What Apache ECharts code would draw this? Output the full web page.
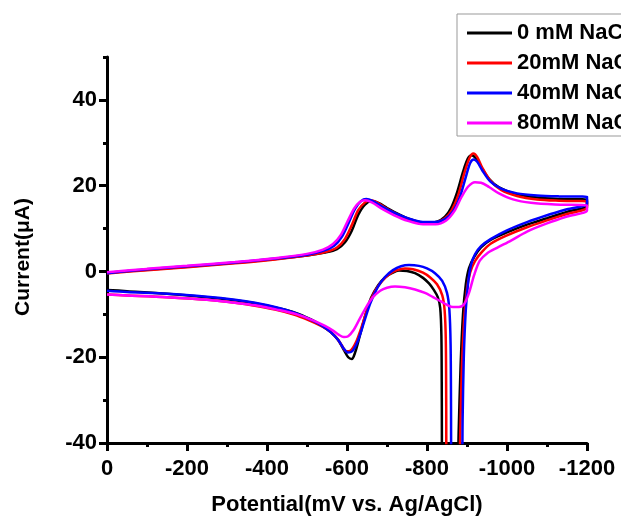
<!DOCTYPE html>
<html>
<head>
<meta charset="utf-8">
<script src="https://cdn.jsdelivr.net/npm/echarts@6/dist/echarts.min.js"></script>
<style>
  html, body { margin: 0; padding: 0; background: #fff; }
  #chart { width: 621px; height: 522px; }
</style>
</head>
<body>
<div id="chart"></div>
<script>
// potential (mV) / current (uA) pairs, scan goes 0 -> -1200 -> 0
const legendNames = ['0 mM NaCl', '20mM NaCl', '40mM NaCl', '80mM NaCl'];
const lineColors = ['#000000', '#ff0000', '#0000ff', '#ff00ff'];

const cv0mM = [
  [0,-0.3],[-100,0.4],[-200,1.1],[-320,2.0],[-420,2.9],[-500,3.7],[-545,4.4],[-575,5.2],[-595,6.8],[-612,9.5],
  [-628,13.2],[-645,15.6],[-662,16.4],[-680,15.9],[-700,14.8],[-730,13.3],[-760,12.1],[-795,11.3],[-825,11.6],
  [-845,12.8],[-860,14.8],[-875,18.4],[-890,23.2],[-902,26.3],[-912,27.1],[-922,26.4],[-935,24.4],[-955,21.6],
  [-980,19.6],[-1020,18.1],[-1070,17.3],[-1130,16.9],[-1200,16.7],
  [-1200,15.3],[-1150,13.9],[-1100,12.4],[-1050,10.9],[-1000,9.1],[-960,7.4],[-935,5.6],[-918,3.4],[-905,0.8],
  [-897,-3],[-890,-10],[-884,-22],[-879,-38],[-876,-50],[-838,-50],[-837,-30],[-836,-15],[-833,-8.5],[-827,-6],
  [-817,-4.3],[-805,-2.8],[-790,-1.5],[-770,-0.4],[-750,0.1],[-730,0.2],[-712,-0.4],[-695,-1.4],[-678,-3.2],
  [-660,-6.2],[-645,-10.5],[-632,-15],[-620,-19],[-612,-20.4],[-603,-20],[-592,-18.3],[-578,-16],[-560,-14.2],
  [-540,-12.8],[-510,-11.2],[-470,-9.6],[-425,-8.5],[-370,-7.4],[-320,-6.7],[-250,-6],[-150,-5.2],[-50,-4.6],[0,-4.3]
];

const cv20mM = [
  [0,-0.5],[-100,0.3],[-200,1.0],[-320,1.9],[-420,2.8],[-500,3.7],[-545,4.5],[-575,5.6],[-595,7.6],[-612,10.8],
  [-628,14.3],[-645,16.1],[-658,16.6],[-675,16.1],[-700,14.6],[-730,13.1],[-760,12],[-795,11.3],[-825,11.5],
  [-845,12.4],[-862,14.3],[-878,17.8],[-893,22.8],[-906,26.4],[-916,27.5],[-926,26.6],[-938,24.2],[-958,21.2],
  [-985,19],[-1025,17.6],[-1075,16.8],[-1130,16.5],[-1200,16.3],
  [-1200,14.9],[-1150,13.4],[-1100,11.9],[-1050,10.3],[-1000,8.4],[-960,6.5],[-938,4.6],[-920,2.4],[-908,-0.2],
  [-900,-4],[-893,-11],[-887,-23],[-883,-38],[-880,-50],[-849,-50],[-848,-30],[-847,-16],[-844,-9],[-838,-5.5],
  [-825,-3],[-808,-1.4],[-790,-0.3],[-765,0.5],[-745,0.7],[-725,0.3],[-705,-0.7],[-688,-2.2],[-670,-4.6],
  [-652,-8.4],[-637,-12.8],[-622,-16.6],[-608,-18.5],[-598,-18.6],[-588,-17.4],[-575,-15.6],[-558,-14],
  [-535,-12.7],[-505,-11.4],[-465,-10],[-420,-8.9],[-370,-8],[-320,-7.3],[-250,-6.6],[-150,-6],[-50,-5.6],[0,-5.4]
];

const cv40mM = [
  [0,-0.4],[-100,0.5],[-200,1.2],[-320,2.1],[-420,3.0],[-500,3.9],[-540,4.8],[-568,6.0],[-588,8.2],[-605,11.5],
  [-620,14.6],[-635,16.4],[-648,16.9],[-665,16.4],[-690,15],[-720,13.6],[-755,12.3],[-790,11.5],[-820,11.5],
  [-845,12.2],[-865,14],[-882,17.3],[-897,22],[-908,25.3],[-917,26.1],[-926,25.5],[-938,23.6],[-958,21],
  [-985,19.3],[-1025,18.2],[-1075,17.7],[-1130,17.5],[-1200,17.4],
  [-1200,15.8],[-1150,14.5],[-1100,13.1],[-1050,11.5],[-1000,9.6],[-960,7.6],[-935,5.9],[-920,4],[-910,1.5],
  [-903,-2.5],[-897,-9],[-892,-20],[-889,-35],[-887,-50],[-861,-50],[-860,-30],[-859,-17],[-856,-9],[-850,-5],
  [-838,-2.2],[-820,-0.4],[-800,0.7],[-780,1.3],[-755,1.5],[-735,1.2],[-715,0.3],[-695,-1.3],[-676,-3.8],
  [-658,-7.5],[-642,-12],[-627,-16.2],[-613,-18.6],[-602,-18.9],[-592,-18],[-578,-16],[-560,-14.2],[-538,-12.7],
  [-508,-11.2],[-468,-9.6],[-425,-8.4],[-370,-7.3],[-320,-6.6],[-250,-5.9],[-150,-5.2],[-50,-4.8],[0,-4.5]
];

const cv80mM = [
  [0,-0.2],[-100,0.6],[-200,1.3],[-320,2.2],[-420,3.1],[-500,4.1],[-540,5.1],[-565,6.4],[-585,8.6],[-602,11.8],
  [-618,14.7],[-632,16.2],[-645,16.6],[-662,16.1],[-688,14.6],[-718,13.1],[-752,11.8],[-790,11],[-822,11],
  [-848,11.9],[-868,14],[-886,17.3],[-903,19.8],[-920,20.8],[-935,20.7],[-955,19.7],[-980,18.2],[-1015,16.8],
  [-1060,16],[-1120,15.6],[-1200,15.4],
  [-1200,14.2],[-1150,12.8],[-1100,11.2],[-1050,9.3],[-1010,7.2],[-975,5.5],[-950,4.2],[-932,2.5],[-918,-0.8],
  [-905,-5],[-893,-7.6],[-880,-8.3],[-865,-8.3],[-850,-7.8],[-835,-7],[-815,-6],[-795,-5],[-770,-4.2],[-745,-3.7],
  [-720,-3.5],[-700,-3.8],[-683,-4.5],[-665,-6],[-648,-8.3],[-632,-11],[-617,-13.6],[-603,-15.1],[-592,-15.3],
  [-580,-14.8],[-565,-13.8],[-545,-12.7],[-515,-11.4],[-475,-10],[-425,-8.9],[-370,-7.9],[-320,-7.3],[-250,-6.6],
  [-150,-6],[-50,-5.6],[0,-5.4]
];

const yMajorTicks = [-40, -20, 0, 20, 40];
const yMinorTicks = [-30, -10, 10, 30, 50];

const curves = [cv0mM, cv20mM, cv40mM, cv80mM];
const font = '"Liberation Sans", Arial, sans-serif';

const chart = echarts.init(document.getElementById('chart'), null, { renderer: 'canvas' });

const yBase = {
  type: 'value', min: -40, max: 50, position: 'left',
  splitLine: { show: false }
};

chart.setOption({
  animation: false,
  backgroundColor: '#fff',
  grid: { left: 107, right: 34, top: 57, bottom: 79 },
  legend: {
    orient: 'vertical', left: 457, top: 14,
    padding: [8, 10, 2, 10],
    borderColor: '#999', borderWidth: 1,
    icon: 'rect',
    itemWidth: 45, itemHeight: 3, itemGap: 8,
    data: legendNames,
    textStyle: { fontFamily: font, fontSize: 22, fontWeight: 'bold', color: '#000' }
  },
  xAxis: {
    type: 'value', min: -1200, max: 0, interval: 200, inverse: true,
    name: 'Potential(mV vs. Ag/AgCl)', nameLocation: 'middle', nameGap: 51,
    nameTextStyle: { fontFamily: font, fontSize: 22, fontWeight: 'bold', color: '#000' },
    axisLine: { show: true, onZero: false, lineStyle: { color: '#000', width: 3 } },
    axisTick: { show: true, length: 8, lineStyle: { color: '#000', width: 3 } },
    minorTick: { show: true, splitNumber: 2, length: 4, lineStyle: { color: '#000', width: 3 } },
    axisLabel: {
      margin: 15, fontFamily: font, fontSize: 22, fontWeight: 'bold', color: '#000',
      formatter: v => String(v)
    },
    splitLine: { show: false }, minorSplitLine: { show: false }
  },
  yAxis: [
    Object.assign({}, yBase, {
      name: 'Current(\u03bcA)', nameLocation: 'middle', nameGap: 73,
      nameTextStyle: { fontFamily: font, fontSize: 21, fontWeight: 'bold', color: '#000', padding: [0, 14, 0, 0] },
      axisLine: { show: true, onZero: false, lineStyle: { color: '#000', width: 3 } },
      axisTick: { show: true, length: 8, customValues: yMajorTicks, lineStyle: { color: '#000', width: 3 } },
      axisLabel: { margin: 10, customValues: yMajorTicks, fontFamily: font, fontSize: 22, fontWeight: 'bold', color: '#000' }
    }),
    Object.assign({}, yBase, {
      axisLine: { show: false, onZero: false },
      axisTick: { show: true, length: 4, customValues: yMinorTicks, lineStyle: { color: '#000', width: 3 } },
      axisLabel: { show: false }
    })
  ],
  series: curves.map((d, i) => ({
    name: legendNames[i],
    type: 'line',
    yAxisIndex: 0,
    data: d,
    symbol: 'none',
    smooth: 0.3,
    clip: true,
    lineStyle: { color: lineColors[i], width: 2.5 },
    itemStyle: { color: lineColors[i] }
  }))
});
</script>
</body>
</html>
